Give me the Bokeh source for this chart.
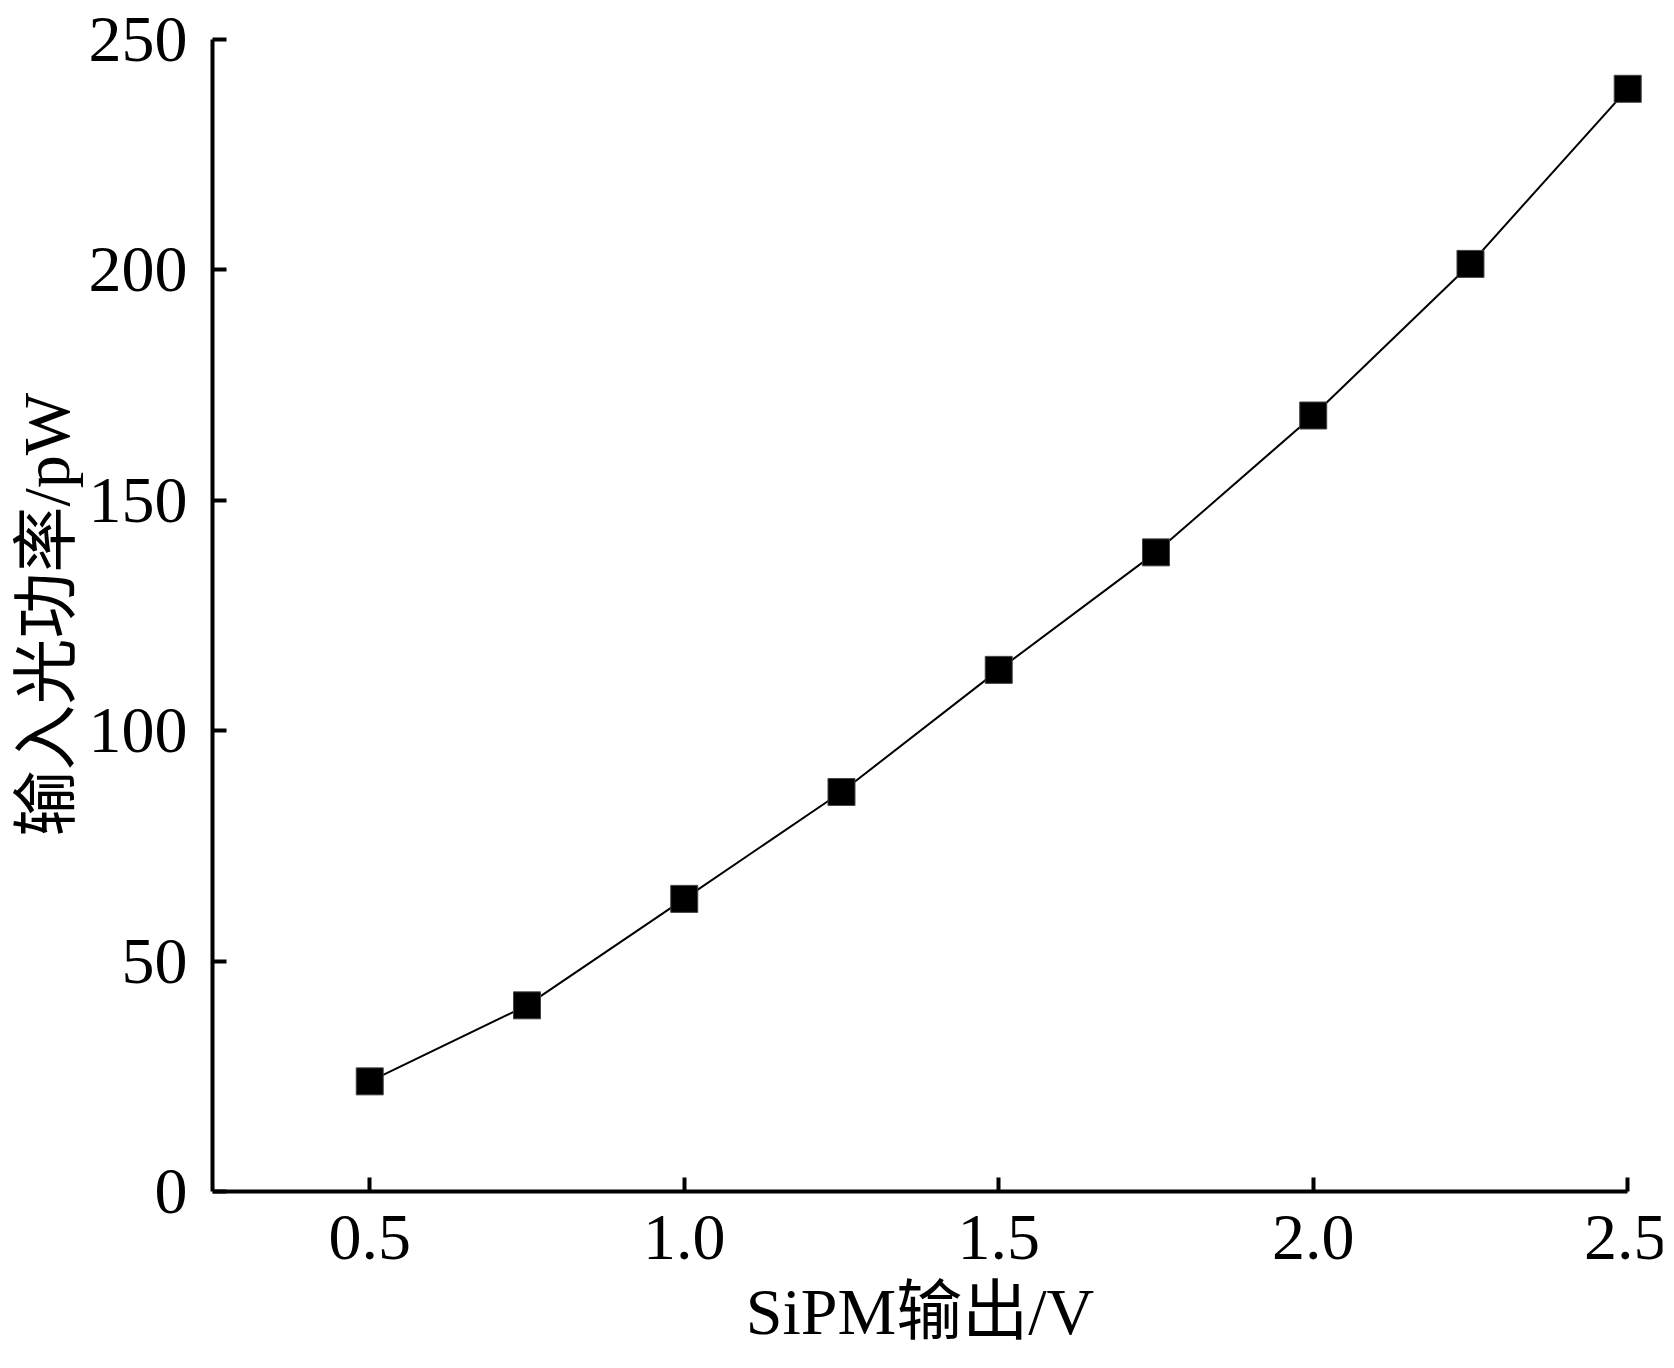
from bokeh.plotting import figure
from bokeh.models import Range1d, FixedTicker, CustomJSTickFormatter, Title
from bokeh.embed import file_html
from bokeh.resources import INLINE

sipm_v = [0.5, 0.75, 1.0, 1.25, 1.5, 1.75, 2.0, 2.25, 2.5]
power_pw = [23.9, 40.4, 63.5, 86.7, 113.2, 138.7, 168.4, 201.3, 239.3]
x_ticks = [0.5, 1.0, 1.5, 2.0, 2.5]
y_ticks = [0, 50, 100, 150, 200, 250]
x_label = "SiPM输出/V"
y_label = "输入光功率/pW"

# axis extents and the visible window (the window leaves room below y=0 for the x-axis texts)
X_START, X_AXIS_END, X_VIEW_END = 0.25, 2.5, 2.5553
Y_START, Y_END, Y_VIEW_START = 0, 250, -34.94

FONT = "Liberation Serif, Noto Sans CJK SC"

p = figure(width=1666, height=1352, output_backend="svg", toolbar_location=None,
           x_range=Range1d(X_START, X_VIEW_END), y_range=Range1d(Y_VIEW_START, Y_END),
           min_border_left=212, min_border_right=4, min_border_top=39, min_border_bottom=0)
p.outline_line_color = None
p.grid.visible = False
p.background_fill_color = "white"
p.border_fill_color = "white"

p.line(sipm_v, power_pw, line_color="black", line_width=2)
p.scatter(sipm_v, power_pw, marker="square", size=27, fill_color="black",
          line_color="#444444", line_width=1)

for ax in (p.xaxis[0], p.yaxis[0]):
    ax.axis_line_width = 4
    ax.axis_line_color = "black"
    ax.major_tick_line_width = 4
    ax.major_tick_line_color = "black"
    ax.major_tick_in = 14
    ax.major_tick_out = 0
    ax.minor_tick_line_color = None
    ax.major_label_text_font = FONT
    ax.major_label_text_font_size = "66px"
    ax.major_label_text_color = "black"
    ax.axis_label_text_font = FONT
    ax.axis_label_text_font_size = "66px"
    ax.axis_label_text_font_style = "normal"
    ax.axis_label_text_color = "black"

p.xaxis[0].ticker = FixedTicker(ticks=x_ticks)
p.xaxis[0].bounds = (X_START, X_AXIS_END)
p.xaxis[0].fixed_location = Y_START
p.xaxis[0].formatter = CustomJSTickFormatter(code="return tick.toFixed(1);")
p.xaxis[0].major_label_standoff = 25
p.xaxis[0].axis_label = x_label
p.xaxis[0].axis_label_standoff = 12

p.yaxis[0].ticker = FixedTicker(ticks=y_ticks)
p.yaxis[0].bounds = (Y_START, Y_END)
p.yaxis[0].major_label_standoff = 25

ytitle = Title(text=y_label, align="left", offset=516, standoff=6,
               text_font=FONT, text_font_size="66px", text_font_style="normal",
               text_color="black")
p.add_layout(ytitle, "left")

open("out.html", "w").write(file_html(p, INLINE))
